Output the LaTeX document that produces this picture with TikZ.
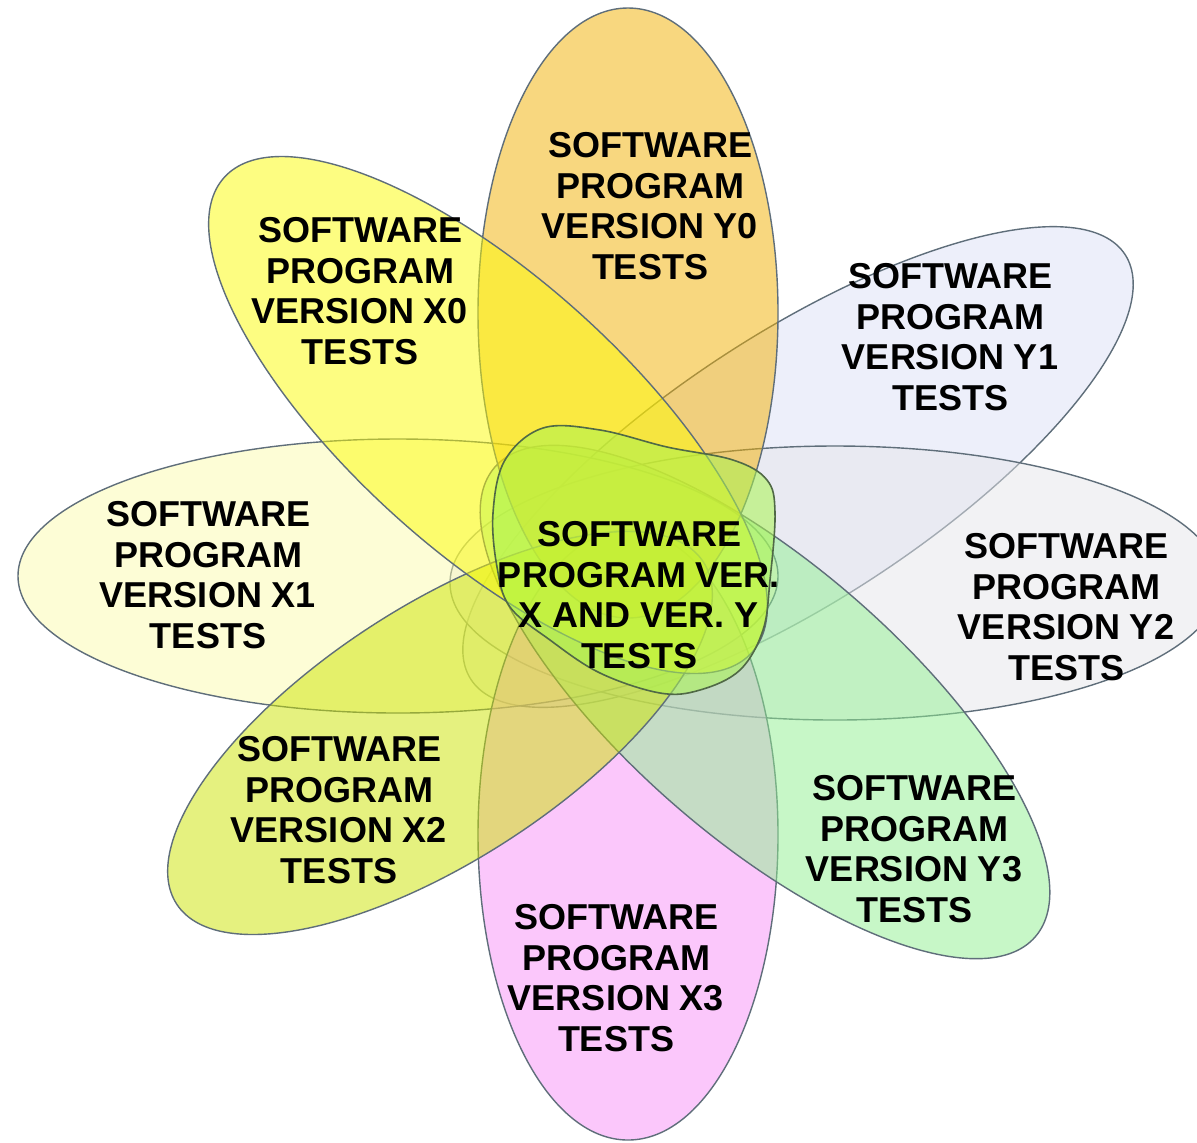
\documentclass[tikz,border=0pt]{standalone}
\usepackage{fontspec}
\setmainfont{Liberation Sans}

\definecolor{borde}{RGB}{95,110,122}
\definecolor{bordecentro}{RGB}{80,105,70}
\definecolor{colYcero}{RGB}{243,177,1}
\definecolor{colYuno}{RGB}{221,225,247}
\definecolor{colYdos}{RGB}{231,231,235}
\definecolor{colYtres}{RGB}{145,241,145}
\definecolor{colXcero}{RGB}{252,252,5}
\definecolor{colXuno}{RGB}{253,253,175}
\definecolor{colXdos}{RGB}{205,229,0}
\definecolor{colXtres}{RGB}{249,145,249}
\definecolor{colCentro}{RGB}{170,245,80}

\begin{document}
\begin{tikzpicture}[x=0.5pt, y=-0.5pt,
    petalo/.style={draw=borde, line width=0.7pt, fill opacity=0.5},
    etiqueta/.style={font=\fontsize{18}{20.3}\selectfont\bfseries,
      align=center, inner sep=0pt, text=black}]

    % Marco
    \useasboundingbox (0,0) rectangle (1197,1142);
    \fill[white] (0,0) rectangle (1197,1142);

    % Pétalos
    \draw[petalo, fill=colYuno, rotate around={33:(798,467)}]
      (798,467) ellipse (390 and 134);
    \draw[petalo, fill=colYdos] (835,583) ellipse (385 and 137);
    \draw[petalo, fill=colXuno] (398,576) ellipse (380 and 137);
    \draw[petalo, fill=colXtres] (628,835) ellipse (150 and 305);
    \draw[petalo, fill=colYtres, rotate around={-41:(765,702)}]
      (765,702) ellipse (358 and 137);
    \draw[petalo, fill=colYcero] (628,313) ellipse (150 and 305);
    \draw[petalo, fill=colXdos, rotate around={33:(440,733)}]
      (440,733) ellipse (314 and 127);
    \draw[petalo, fill=colXcero, rotate around={-42:(488,415)}]
      (488,415) ellipse (355 and 137);

    % Zona central
    \draw[draw=bordecentro, line width=0.8pt, fill=colCentro, fill opacity=0.55]
      plot[smooth cycle, tension=0.6] coordinates {
        (497,567) (493,513) (505,460) (543,428) (600,430) (667,447)
        (733,460) (767,480) (775,513) (770,580) (763,630) (740,670)
        (700,690) (660,693) (600,673) (550,640) (510,607)};

    % Etiquetas
    \node[etiqueta] (ycero) at (650,206)
      {SOFTWARE\\PROGRAM\\VERSION Y0\\TESTS};
    \node[etiqueta] (xcero) at (360,291)
      {SOFTWARE\\PROGRAM\\VERSION X0\\TESTS};
    \node[etiqueta] (yuno) at (950,337)
      {SOFTWARE\\PROGRAM\\VERSION Y1\\TESTS};
    \node[etiqueta] (xuno) at (208,575)
      {SOFTWARE\\PROGRAM\\VERSION X1\\TESTS};
    \node[etiqueta] (centro) at (639,595)
      {SOFTWARE\\PROGRAM VER.\\X AND VER. Y\\TESTS};
    \node[etiqueta] (ydos) at (1066,607)
      {SOFTWARE\\PROGRAM\\VERSION Y2\\TESTS};
    \node[etiqueta] (xdos) at (339,810)
      {SOFTWARE\\PROGRAM\\VERSION X2\\TESTS};
    \node[etiqueta] (ytres) at (914,849)
      {SOFTWARE\\PROGRAM\\VERSION Y3\\TESTS};
    \node[etiqueta] (xtres) at (616,978)
      {SOFTWARE\\PROGRAM\\VERSION X3\\TESTS};

  \end{tikzpicture}
\end{document}
